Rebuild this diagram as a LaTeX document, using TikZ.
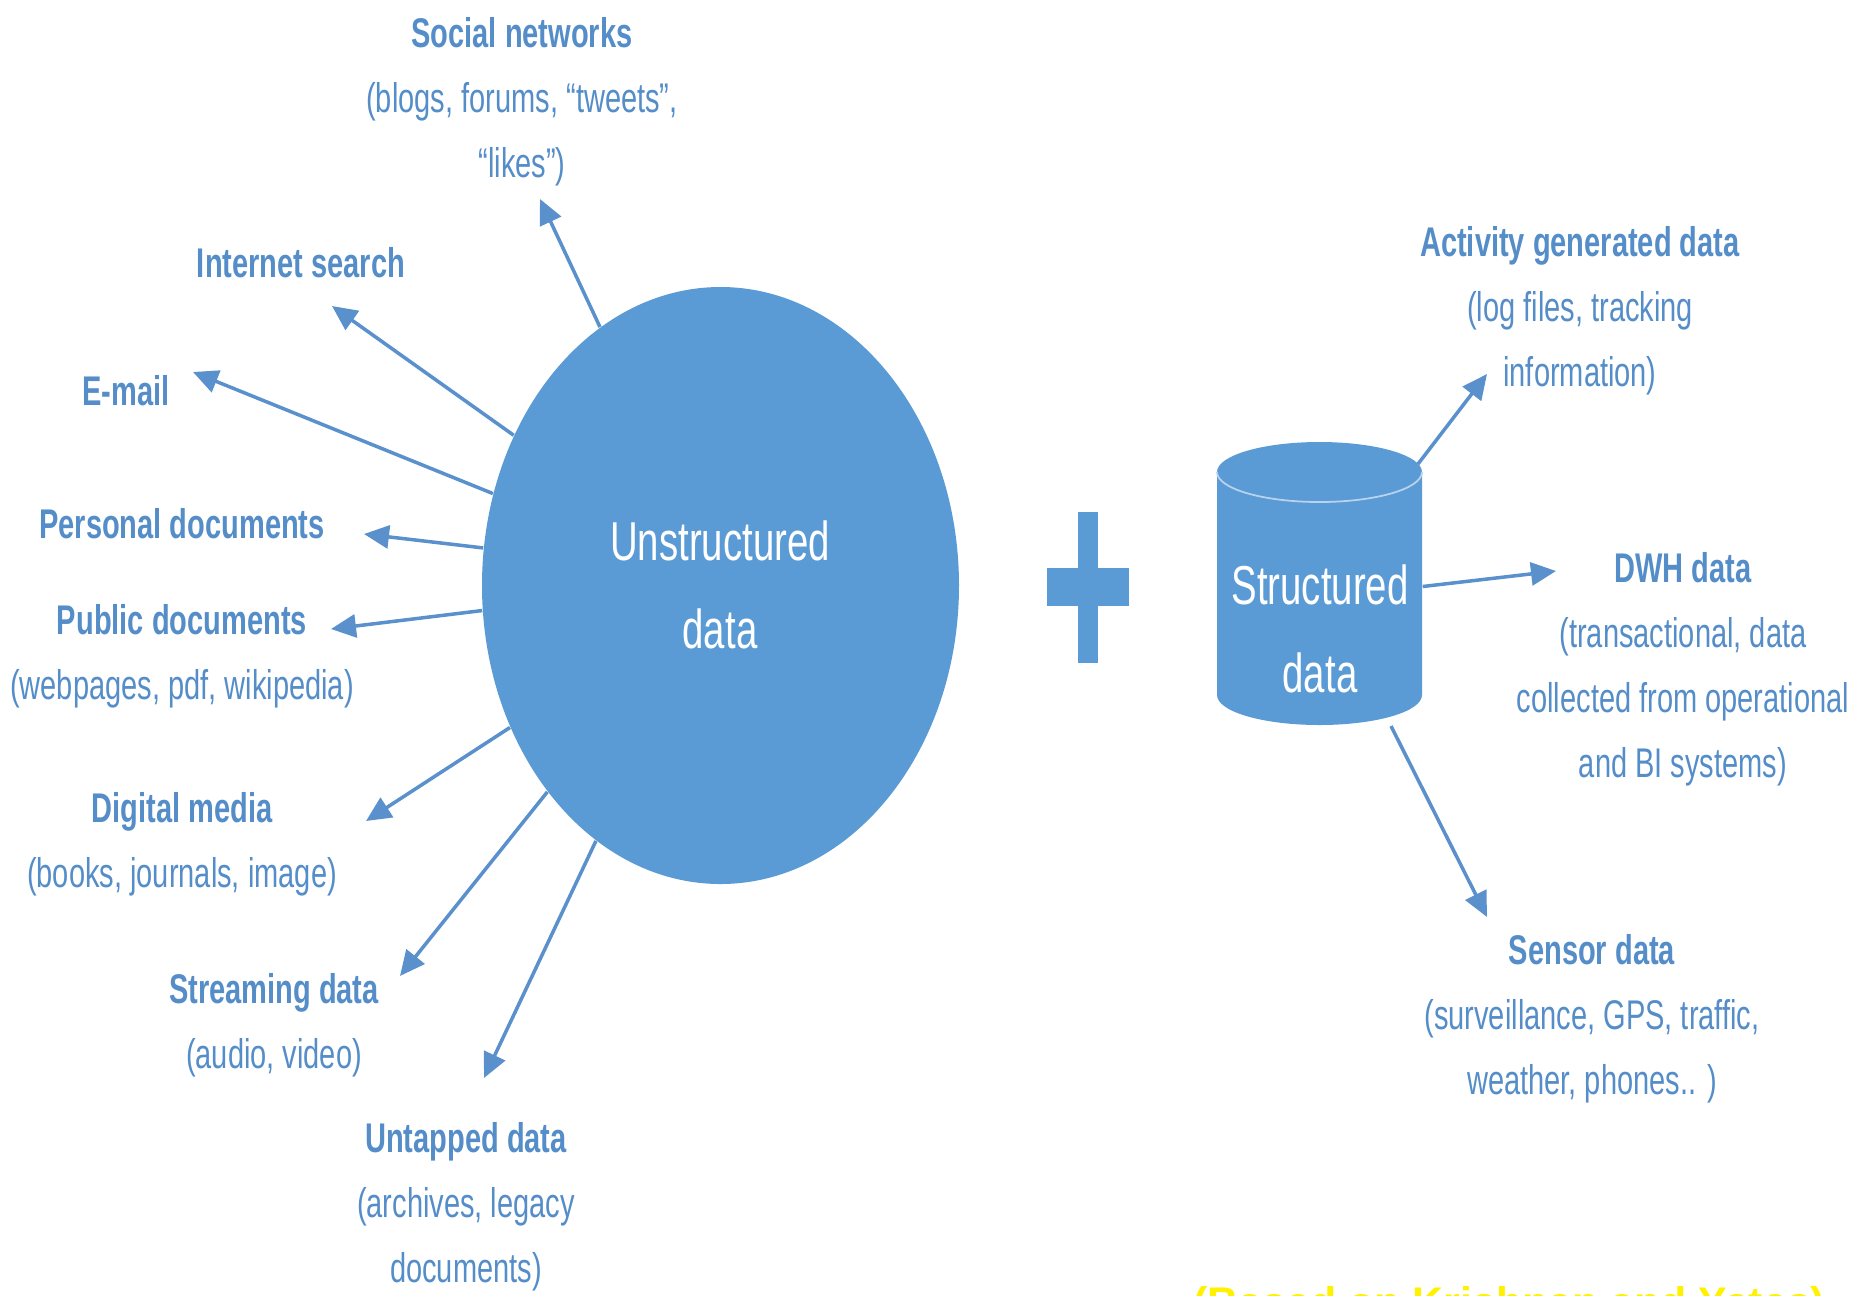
\documentclass[tikz,border=0pt]{standalone}
\usepackage{fontspec}
\setmainfont{Liberation Sans}[FakeStretch=0.7]
\newfontfamily\yfont{Liberation Sans}
\usetikzlibrary{arrows.meta,calc,shapes.geometric}
\definecolor{blobc}{HTML}{5B9BD5}
\definecolor{labc}{HTML}{548DC8}
\definecolor{arrc}{HTML}{5A91CC}
\definecolor{capline}{HTML}{B8D3EE}
\tikzset{
  lbl/.style={text=labc, align=center, inner sep=0pt, font=\fontsize{11.8}{18.5}\selectfont},
  big/.style={text=white, align=center, inner sep=0pt, font=\fontsize{15.6}{25}\selectfont},
  arr/.style={draw=arrc, line width=1pt, -{Triangle[length=0.25cm, width=0.23cm]}}
}
\begin{document}
\begin{tikzpicture}
\useasboundingbox (0,0) rectangle (18.61,-12.95);
\clip (0,0) rectangle (18.61,-12.95);

% unstructured ellipse
\node[ellipse, fill=blobc, minimum width=4.77cm, minimum height=5.97cm, inner sep=0pt] (U) at (7.205,-5.855) {};
\node[big] (Utxt) at (7.20,-5.85) {Unstructured\\data};

% plus sign
\fill[blobc] (10.78,-5.12) rectangle (10.98,-6.63);
\fill[blobc] (10.47,-5.68) rectangle (11.29,-6.06);

% cylinder
\fill[blobc] (12.17,-4.72) -- (12.17,-6.95)
  arc[start angle=180, end angle=360, x radius=1.025cm, y radius=0.30cm]
  -- (14.22,-4.72)
  arc[start angle=0, end angle=180, x radius=1.025cm, y radius=0.30cm] -- cycle;
\draw[capline, line width=0.5pt] (12.17,-4.72)
  arc[start angle=180, end angle=360, x radius=1.025cm, y radius=0.30cm];
\node[minimum width=2.05cm, minimum height=2.85cm, inner sep=0pt] (S) at (13.195,-5.835) {};
\node[big] (Stxt) at (13.20,-6.29) {Structured\\data};

% labels
\node[lbl] (soc) at (5.22,-1.02) {\textbf{Social networks}\\(blogs, forums, “tweets”,\\“likes”)};
\node[lbl] (inet) at (3.01,-2.63) {\textbf{Internet search}};
\node[lbl] (email) at (1.26,-3.91) {\textbf{E-mail}};
\node[lbl] (pers) at (1.82,-5.24) {\textbf{Personal documents}};
\node[lbl] (pub) at (1.82,-6.56) {\textbf{Public documents}\\(webpages, pdf, wikipedia)};
\node[lbl] (dig) at (1.82,-8.44) {\textbf{Digital media}\\(books, journals, image)};
\node[lbl] (str) at (2.74,-10.25) {\textbf{Streaming data}\\(audio, video)};
\node[lbl] (unt) at (4.66,-12.07) {\textbf{Untapped data}\\(archives, legacy\\documents)};
\node[lbl] (act) at (15.80,-3.105) {\textbf{Activity generated data}\\(log files, tracking\\information)};
\node[lbl] (dwh) at (16.83,-6.69) {\textbf{DWH data}\\(transactional, data\\collected from operational\\and BI systems)};
\node[lbl] (sen) at (15.92,-10.185) {\textbf{Sensor data}\\(surveillance, GPS, traffic,\\weather, phones.. )};

% arrow tips
\coordinate (tsoc) at (5.40,-1.99);
\coordinate (tinet) at (3.32,-3.06);
\coordinate (temail) at (1.93,-3.72);
\coordinate (tpers) at (3.64,-5.34);
\coordinate (tpub) at (3.31,-6.29);
\coordinate (tdig) at (3.66,-8.21);
\coordinate (tstr) at (4.00,-9.76);
\coordinate (tunt) at (4.84,-10.78);
\coordinate (tact) at (14.87,-3.74);
\coordinate (tdwh) at (15.56,-5.71);
\coordinate (tsen) at (14.87,-9.17);

% connectors
\draw[arr] (U.115.6) -- (tsoc);
\draw[arr] (U.144.6) -- (tinet);
\draw[arr] (U.158.2) -- (temail);
\draw[arr] (U.171.8) -- (tpers);
\draw[arr] (U.186.8) -- (tpub);
\draw[arr] (U.214) -- (tdig);
\draw[arr] (U.230.5) -- (tstr);
\draw[arr] (U.244.2) -- (tunt);
\draw[arr] ($(S.center)+(0.985,1.195)$) -- (tact);
\draw[arr] ($(S.east)+(0,-0.03)$) -- (tdwh);
\draw[arr] ($(S.center)+(0.715,-1.425)$) -- (tsen);

% yellow source text (cut off at the bottom edge, as in the reference)
\node[anchor=base west, inner sep=0pt, text=yellow, font=\yfont\bfseries\fontsize{12.2}{14}\selectfont] (src) at (11.93,-13.17) {(Based on Krishnan and Yates)};
\end{tikzpicture}
\end{document}
